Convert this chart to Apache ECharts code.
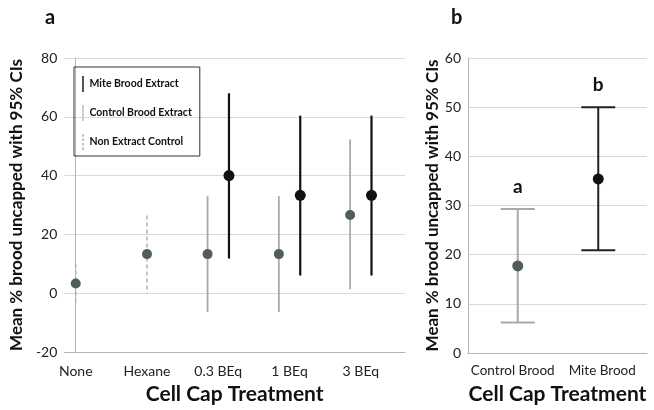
<!DOCTYPE html>
<html>
<head>
<meta charset="utf-8">
<script src="https://cdn.jsdelivr.net/npm/echarts@6/dist/echarts.min.js"></script>
<style>
  html, body { margin: 0; padding: 0; background: #fff; }
  #chart { width: 654px; height: 410px; }
</style>
</head>
<body>
<div id="chart"></div>
<script>
// panel a
var catsA = ['None', 'Hexane', '0.3 BEq', '1 BEq', '3 BEq'];
var miteMean = [null, null, 40, 33.3, 33.3];
var miteLow = [null, null, 11.8, 6, 6];
var miteHigh = [null, null, 68, 60.4, 60.4];
var ctrlMean = [null, null, 13.3, 13.3, 26.6];
var ctrlLow = [null, null, -6.4, -6.4, 1.3];
var ctrlHigh = [null, null, 33, 33, 52.3];
var nonMean = [3.3, 13.3, null, null, null];
var nonLow = [-3.9, 0, null, null, null];
var nonHigh = [10.1, 26.4, null, null, null];

// panel b
var catsB = ['Control Brood', 'Mite Brood'];
var meanB = [17.7, 35.4];
var lowB = [6.2, 20.9];
var highB = [29.3, 50];
var lettersB = ['a', 'b'];

var FONT = 'Lato, "Open Sans", sans-serif';
var GRAY_LINE = '#a9a9a9';
var GRAY_DOT = '#505d58';
var BLACK = '#111111';

var chart = echarts.init(document.getElementById('chart'), null, { renderer: 'canvas' });

function pts(mean, low, high, off) {
  var out = [];
  mean.forEach(function (m, i) {
    if (m !== null) out.push([i + off, low[i], high[i], m]);
  });
  return out;
}

function barItem(stroke, width, dash) {
  return function (params, api) {
    var x = api.value(0);
    var a = api.coord([x, api.value(2)]);
    var b = api.coord([x, api.value(1)]);
    return {
      type: 'line',
      shape: { x1: a[0], y1: a[1], x2: b[0], y2: b[1] },
      style: { stroke: stroke, lineWidth: width, lineDash: dash || null }
    };
  };
}

function capBar(params, api) {
  var i = api.value(0);
  var top = api.coord([i, api.value(2)]);
  var bot = api.coord([i, api.value(1)]);
  var color = i === 0 ? GRAY_LINE : '#222';
  var x = top[0] + (i === 0 ? 5 : -4);
  var half = 17;
  return {
    type: 'group',
    children: [
      { type: 'line', shape: { x1: x, y1: top[1], x2: x, y2: bot[1] }, style: { stroke: color, lineWidth: 2 } },
      { type: 'line', shape: { x1: x - half, y1: top[1], x2: x + half, y2: top[1] }, style: { stroke: color, lineWidth: 2 } },
      { type: 'line', shape: { x1: x - half, y1: bot[1], x2: x + half, y2: bot[1] }, style: { stroke: color, lineWidth: 2 } },
      { type: 'circle', shape: { cx: x, cy: api.coord([i, api.value(3)])[1], r: 5.5 }, style: { fill: i === 0 ? GRAY_DOT : BLACK } },
      { type: 'text', x: x, y: top[1] - 22, style: { text: lettersB[i], fill: '#111', font: 'bold 19px ' + FONT, align: 'center', verticalAlign: 'middle' } }
    ]
  };
}

var miteData = pts(miteMean, miteLow, miteHigh, 0.15);
var ctrlData = pts(ctrlMean, ctrlLow, ctrlHigh, -0.15);
var nonData = pts(nonMean, nonLow, nonHigh, 0);
var bData = meanB.map(function (m, i) { return [i, lowB[i], highB[i], m]; });

var yName = 'Mean % brood uncapped with 95% CIs';
var axisLineStyle = { show: true, lineStyle: { color: '#b5b5b5', width: 1 } };
var splitStyle = { show: true, lineStyle: { color: '#d9d9d9', width: 1 } };
var labelStyle = { color: '#222', fontSize: 14, fontFamily: FONT };
var nameStyle = { color: '#111', fontSize: 21, fontWeight: 'bold', fontFamily: FONT };
var yNameStyle = { color: '#111', fontSize: 17, fontWeight: 'bold', fontFamily: FONT };

var option = {
  backgroundColor: '#ffffff',
  animation: false,
  title: [
    { text: 'a', left: 40, top: 3, textStyle: { fontSize: 20, fontWeight: 'bold', color: '#111', fontFamily: FONT } },
    { text: 'b', left: 446, top: 3, textStyle: { fontSize: 20, fontWeight: 'bold', color: '#111', fontFamily: FONT } }
  ],
  legend: {
    orient: 'vertical',
    left: 74,
    top: 67,
    padding: [9, 8, 6, 8],
    itemWidth: 3,
    itemHeight: 16,
    itemGap: 13,
    borderColor: '#333',
    borderWidth: 1,
    selectedMode: false,
    textStyle: { fontSize: 10.5, fontWeight: 'bold', color: '#111', fontFamily: FONT },
    data: [
      { name: 'Mite Brood Extract', icon: 'path://M0,0H2V16H0Z', itemStyle: { color: '#555' } },
      { name: 'Control Brood Extract', icon: 'path://M0,0H2V16H0Z', itemStyle: { color: '#cfcfcf' } },
      { name: 'Non Extract Control', icon: 'path://M0,0H2V3H0Z M0,5H2V8H0Z M0,10H2V13H0Z M0,15H2V18H0Z', itemStyle: { color: '#bbbbbb' } }
    ]
  },
  grid: [
    { left: 62, top: 58, right: 249, bottom: 56 },
    { left: 468, top: 58, right: 7, bottom: 55 }
  ],
  xAxis: [
    {
      type: 'value', gridIndex: 0, min: -0.16, max: 4.62,
      axisLine: { show: true, onZero: false, lineStyle: { color: '#b5b5b5' } },
      axisTick: { show: false },
      splitLine: { show: false },
      axisLabel: Object.assign({}, labelStyle, {
        customValues: [0, 1, 2, 3, 4], margin: 12,
        formatter: function (v) { return catsA[Math.round(v)]; }
      }),
      name: 'Cell Cap Treatment', nameLocation: 'middle', nameGap: 32, nameTextStyle: nameStyle
    },
    {
      type: 'category', gridIndex: 1, data: catsB,
      axisLine: { show: true, lineStyle: { color: '#b5b5b5' } },
      axisTick: { show: false },
      axisLabel: Object.assign({}, labelStyle, { margin: 11, interval: 0, fontSize: 13.5, hideOverlap: false }),
      name: 'Cell Cap Treatment', nameLocation: 'middle', nameGap: 31, nameTextStyle: nameStyle
    }
  ],
  yAxis: [
    {
      type: 'value', gridIndex: 0, min: -20, max: 80, interval: 20,
      axisLine: axisLineStyle, axisTick: { show: false }, splitLine: splitStyle,
      axisLabel: Object.assign({}, labelStyle, { margin: 7 }),
      name: yName, nameLocation: 'middle', nameGap: 33, nameTextStyle: yNameStyle
    },
    {
      type: 'value', gridIndex: 1, min: 0, max: 60, interval: 10,
      axisLine: axisLineStyle, axisTick: { show: false }, splitLine: splitStyle,
      axisLabel: Object.assign({}, labelStyle, { margin: 7 }),
      name: yName, nameLocation: 'middle', nameGap: 22, nameTextStyle: yNameStyle
    }
  ],
  series: [
    {
      name: 'Non Extract Control', type: 'custom', xAxisIndex: 0, yAxisIndex: 0,
      renderItem: barItem('#b0b0b0', 1.5, [4, 3]), data: nonData, encode: { x: 0, y: [1, 2] }, z: 2
    },
    {
      name: 'Control Brood Extract', type: 'custom', xAxisIndex: 0, yAxisIndex: 0,
      renderItem: barItem(GRAY_LINE, 1.8), data: ctrlData, encode: { x: 0, y: [1, 2] }, z: 2
    },
    {
      name: 'Mite Brood Extract', type: 'custom', xAxisIndex: 0, yAxisIndex: 0,
      renderItem: barItem(BLACK, 2.2), data: miteData, encode: { x: 0, y: [1, 2] }, z: 2
    },
    {
      type: 'scatter', xAxisIndex: 0, yAxisIndex: 0, symbolSize: 10, z: 3,
      itemStyle: { color: GRAY_DOT, opacity: 1 },
      data: nonData.concat(ctrlData).map(function (d) { return [d[0], d[3]]; })
    },
    {
      type: 'scatter', xAxisIndex: 0, yAxisIndex: 0, symbolSize: 11, z: 3,
      itemStyle: { color: BLACK, opacity: 1 },
      data: miteData.map(function (d) { return [d[0], d[3]]; })
    },
    {
      type: 'custom', xAxisIndex: 1, yAxisIndex: 1,
      renderItem: capBar, data: bData, encode: { x: 0, y: [1, 2] }, z: 3
    }
  ]
};

chart.setOption(option);
</script>
</body>
</html>
